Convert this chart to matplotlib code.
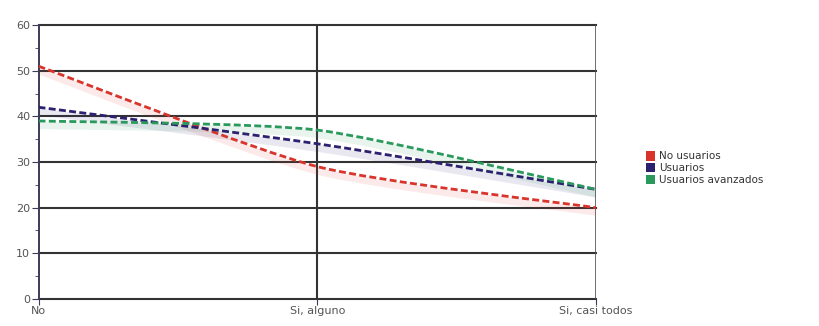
import matplotlib
matplotlib.use("Agg")
import matplotlib.pyplot as plt
from matplotlib.path import Path
from matplotlib.patches import PathPatch, Patch
import numpy as np

categories = ["No", "Si, alguno", "Si, casi todos"]
no_usuarios = [51, 29, 20]
usuarios = [42, 34, 24]
usuarios_avanzados = [39, 37, 24]

series = [
    ("No usuarios", no_usuarios, "#d9342b"),
    ("Usuarios", usuarios, "#2b2170"),
    ("Usuarios avanzados", usuarios_avanzados, "#2a9a5c"),
]


def smooth_path(xs, ys, t=0.22):
    # catmull-rom -> bezier, so the line bends softly through the points
    xs = np.asarray(xs, float)
    ys = np.asarray(ys, float)
    verts = [(xs[0], ys[0])]
    codes = [Path.MOVETO]
    n = len(xs)
    for i in range(n - 1):
        p0 = (xs[max(i - 1, 0)], ys[max(i - 1, 0)])
        p1 = (xs[i], ys[i])
        p2 = (xs[i + 1], ys[i + 1])
        p3 = (xs[min(i + 2, n - 1)], ys[min(i + 2, n - 1)])
        c1 = (p1[0] + (p2[0] - p0[0]) * t / 2, p1[1] + (p2[1] - p0[1]) * t / 2)
        c2 = (p2[0] - (p3[0] - p1[0]) * t / 2, p2[1] - (p3[1] - p1[1]) * t / 2)
        verts += [c1, c2, p2]
        codes += [Path.CURVE4] * 3
    return Path(verts, codes)


fig = plt.figure(figsize=(8.2, 3.26), dpi=100)
ax = fig.add_axes([0.047, 0.083, 0.680, 0.840])

x = np.arange(len(categories))
ax.set_xlim(0, len(categories) - 1)
ax.set_ylim(0, 60)

for yv in range(0, 61, 10):
    ax.axhline(yv, color="#333333", lw=1.5, zorder=1, clip_on=False)
ax.axvline(1, color="#333333", lw=1.5, zorder=1)
ax.axvline(2, color="#555555", lw=1.2, zorder=1)

for name, vals, col in series:
    shadow = PathPatch(smooth_path(x, np.array(vals) - 1.0), fill=False,
                       edgecolor=col, alpha=0.10, lw=5, zorder=2)
    ax.add_patch(shadow)
    line = PathPatch(smooth_path(x, vals), fill=False, edgecolor=col,
                     lw=2.0, linestyle=(0, (2.5, 1.2)), zorder=3)
    ax.add_patch(line)

for s in ["top", "right", "bottom"]:
    ax.spines[s].set_visible(False)
ax.spines["left"].set_color("#3c3c5a")
ax.spines["left"].set_linewidth(1.4)

ax.set_yticks(range(0, 61, 10))
ax.set_yticks(range(5, 60, 10), minor=True)
ax.tick_params(axis="y", which="major", length=5, color="#3c3c5a",
               labelsize=8, labelcolor="#555555", pad=1)
ax.tick_params(axis="y", which="minor", length=3, color="#3c3c5a")
ax.set_xticks(x)
ax.set_xticklabels(categories)
ax.tick_params(axis="x", length=4, color="#3c3c5a", labelsize=8,
               labelcolor="#555555", pad=1)

handles = [Patch(facecolor=c, edgecolor="none", label=n) for n, v, c in series]
fig.legend(handles=handles, loc="upper left", bbox_to_anchor=(0.776, 0.565),
           frameon=False, fontsize=7.5, handlelength=0.9, handleheight=1.0,
           handletextpad=0.4, labelspacing=0.15, labelcolor="#333333")

fig.savefig("out.png", dpi=100)
